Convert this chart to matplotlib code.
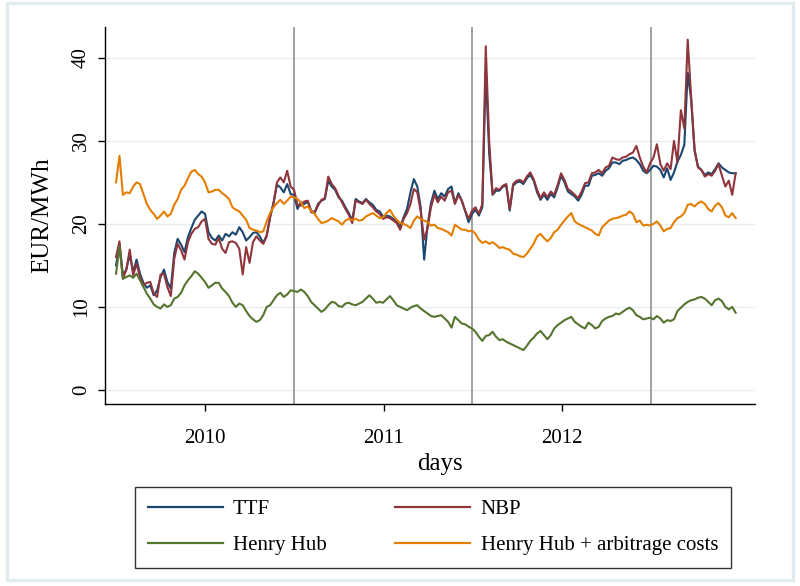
import numpy as np
import pandas as pd
import matplotlib
matplotlib.use("Agg")
import matplotlib.pyplot as plt
import matplotlib.dates as mdates
from matplotlib.patches import Rectangle

plt.rcParams['font.family'] = ['Liberation Serif', 'DejaVu Serif']

# weekly observations, July 2009 - December 2012
dates = pd.date_range('2009-07-03', periods=182, freq='7D')

ttf = [15.0, 17.5, 13.8, 14.5, 16.3, 14.2, 15.7, 14.0, 12.9, 12.3,
       12.6, 11.4, 12.0, 13.6, 14.5, 13.0, 12.2, 16.5, 18.2, 17.5,
       16.6, 18.4, 19.5, 20.5, 21.0, 21.5, 21.2, 19.0, 18.3, 18.0,
       18.6, 18.0, 18.8, 18.5, 19.0, 18.7, 19.6, 19.0, 18.0, 18.4,
       18.9, 19.0, 18.5, 17.7, 18.6, 20.8, 22.5, 24.7, 24.4, 23.8,
       24.8, 23.6, 23.5, 21.8, 22.6, 22.4, 22.7, 21.6, 21.4, 22.4,
       22.8, 23.0, 25.2, 24.5, 24.1, 23.2, 22.8, 22.0, 21.3, 20.4,
       23.0, 22.7, 22.5, 23.0, 22.6, 22.3, 21.7, 21.5, 20.9, 21.0,
       20.9, 20.6, 20.3, 19.6, 20.8, 21.8, 23.8, 25.4, 24.5, 22.0,
       15.7, 19.8, 22.5, 24.0, 23.0, 23.7, 23.3, 24.2, 24.5, 22.5,
       23.7, 22.8, 21.5, 20.2, 21.2, 21.7, 21.0, 22.0, 38.5, 28.5,
       23.5, 24.0, 24.0, 24.5, 24.6, 21.6, 24.6, 25.0, 25.1, 24.8,
       25.5, 25.9, 25.2, 23.8, 22.9, 23.5, 22.9, 23.6, 23.2, 24.4,
       25.8, 25.0, 23.9, 23.6, 23.3, 22.8, 23.5, 24.6, 24.6, 25.8,
       25.9, 26.1, 25.8, 26.4, 26.7, 27.4, 27.4, 27.2, 27.6, 27.7,
       27.9, 28.0, 27.7, 27.2, 26.4, 26.1, 26.5, 27.0, 26.9, 26.5,
       25.6, 26.7, 25.3, 26.2, 27.5, 28.3, 29.5, 38.2, 35.0, 28.8,
       26.9, 26.5, 25.9, 26.2, 26.0, 26.6, 27.3, 26.8, 26.5, 26.2,
       26.1, 26.1]

nbp = [16.0, 17.9, 13.4, 14.5, 16.9, 13.8, 15.2, 13.6, 12.6, 12.9,
       13.0, 11.6, 11.2, 13.9, 14.0, 12.4, 11.3, 15.8, 17.6, 16.8,
       15.7, 17.8, 18.8, 19.4, 19.6, 20.3, 20.6, 18.2, 17.6, 17.5,
       18.3, 17.0, 16.5, 17.8, 17.9, 17.7, 17.0, 13.9, 17.2, 15.3,
       17.8, 18.5, 18.0, 17.6, 18.5, 20.8, 22.5, 25.0, 25.6, 25.0,
       26.4, 24.5, 24.1, 22.3, 22.2, 22.7, 22.8, 21.4, 21.3, 22.2,
       22.9, 23.1, 25.7, 24.8, 24.3, 23.4, 22.6, 21.8, 21.1, 20.1,
       22.8, 22.6, 22.4, 22.9, 22.4, 22.0, 21.5, 21.2, 20.6, 20.8,
       20.7, 20.4, 20.1, 19.3, 20.6, 21.3, 22.4, 24.2, 23.8, 21.5,
       18.1, 19.5, 22.0, 23.5, 22.6, 23.3, 22.8, 23.8, 24.0, 22.4,
       23.5, 22.8, 21.6, 20.6, 21.6, 22.0, 21.2, 22.4, 41.4, 30.0,
       23.6, 24.3, 24.1, 24.6, 24.8, 21.8, 24.8, 25.2, 25.3, 25.0,
       25.7, 26.2, 25.4, 24.1, 23.1, 23.8, 23.2, 23.9, 23.5, 24.7,
       26.1, 25.3, 24.2, 23.9, 23.5, 23.1, 23.9, 24.9, 25.0, 26.1,
       26.2, 26.5, 26.1, 26.8, 27.0, 28.0, 27.8, 27.7, 28.0, 28.1,
       28.4, 28.6, 29.4, 28.0, 26.9, 26.2, 27.3, 28.0, 29.6, 27.2,
       26.4, 27.3, 26.6, 30.0, 27.4, 33.7, 31.5, 42.2, 35.3, 29.0,
       26.8, 26.5, 25.7, 26.0, 25.8, 26.4, 27.2, 25.8, 24.5, 25.2,
       23.5, 26.1]

henry_hub = [14.0, 17.3, 13.4, 13.6, 13.8, 13.5, 14.0, 13.2, 12.4, 11.6,
             11.0, 10.3, 10.0, 9.8, 10.3, 10.0, 10.2, 11.0, 11.2, 11.7,
             12.6, 13.2, 13.7, 14.3, 14.0, 13.5, 13.0, 12.3, 12.6, 12.9,
             12.9, 12.2, 11.8, 11.3, 10.5, 10.0, 10.4, 10.2, 9.5, 8.9,
             8.5, 8.2, 8.4, 9.0, 10.0, 10.2, 10.8, 11.4, 11.7, 11.2,
             11.5, 12.0, 11.9, 11.8, 12.1, 11.8, 11.3, 10.6, 10.2, 9.8,
             9.4, 9.7, 10.2, 10.6, 10.5, 10.1, 10.0, 10.4, 10.5, 10.3,
             10.2, 10.4, 10.6, 11.0, 11.4, 11.0, 10.5, 10.6, 10.5, 10.9,
             11.3, 10.8, 10.2, 10.0, 9.8, 9.6, 9.9, 10.1, 10.2, 9.8,
             9.5, 9.2, 8.9, 8.8, 8.9, 9.0, 8.6, 8.2, 7.5, 8.8,
             8.4, 8.0, 7.9, 7.6, 7.4, 7.0, 6.4, 5.9, 6.5, 6.6,
             7.0, 6.4, 6.0, 6.1, 5.8, 5.6, 5.4, 5.2, 5.0, 4.8,
             5.3, 5.9, 6.3, 6.8, 7.1, 6.6, 6.1, 6.6, 7.4, 7.8,
             8.1, 8.4, 8.6, 8.8, 8.2, 7.9, 7.6, 7.4, 8.1, 7.8,
             7.4, 7.6, 8.3, 8.6, 8.8, 8.9, 9.2, 9.1, 9.4, 9.7,
             9.9, 9.6, 9.0, 8.8, 8.5, 8.6, 8.7, 8.5, 8.9, 8.6,
             8.1, 8.4, 8.3, 8.5, 9.5, 9.9, 10.3, 10.6, 10.8, 10.9,
             11.1, 11.2, 11.0, 10.6, 10.2, 10.8, 11.0, 10.7, 10.0, 9.7,
             10.0, 9.3]

hh_arbitrage = [25.0, 28.2, 23.5, 23.8, 23.7, 24.5, 25.0, 24.8, 23.6, 22.4,
                21.7, 21.2, 20.6, 21.0, 21.5, 20.9, 21.2, 22.3, 23.0, 24.1,
                24.6, 25.5, 26.3, 26.5, 26.0, 25.7, 25.0, 23.8, 23.9, 24.1,
                24.1, 23.7, 23.4, 23.0, 22.0, 21.7, 21.5, 21.0, 20.5, 19.5,
                19.3, 19.2, 19.0, 19.1, 20.3, 21.3, 22.0, 22.5, 22.9, 22.4,
                22.8, 23.3, 23.2, 23.0, 22.6, 21.9, 22.1, 21.6, 21.2, 20.6,
                20.1, 20.2, 20.4, 20.7, 20.5, 20.3, 19.9, 20.4, 20.6, 20.5,
                20.6, 20.4, 20.5, 20.9, 21.1, 21.3, 21.0, 20.7, 20.8, 21.3,
                21.7, 21.0, 20.5, 20.1, 20.0, 19.8, 19.5, 20.4, 20.9, 20.6,
                20.4, 20.2, 19.8, 19.9, 19.5, 19.4, 19.2, 19.0, 18.6, 19.9,
                19.6, 19.3, 19.3, 19.1, 19.2, 18.8, 18.1, 17.7, 17.9, 17.6,
                17.8, 17.5, 17.1, 17.2, 17.0, 16.9, 16.4, 16.3, 16.1, 16.0,
                16.4, 17.0, 17.6, 18.5, 18.8, 18.3, 17.9, 18.3, 19.0, 19.3,
                19.9, 20.4, 20.9, 21.3, 20.3, 20.0, 19.8, 19.6, 19.4, 19.2,
                18.8, 18.6, 19.6, 20.0, 20.4, 20.6, 20.7, 20.8, 21.0, 21.1,
                21.5, 21.2, 20.2, 20.4, 19.8, 19.9, 19.8, 20.0, 20.3, 19.8,
                19.1, 19.4, 19.5, 20.2, 20.7, 20.9, 21.3, 22.3, 22.4, 22.1,
                22.5, 22.7, 22.4, 21.8, 21.5, 22.2, 22.5, 22.0, 21.0, 20.8,
                21.3, 20.7]

series_labels = ['TTF', 'NBP', 'Henry Hub', 'Henry Hub + arbitrage costs']
series_colors = ['#1a476f', '#90353b', '#55752f', '#e37e00']
year_ticks = ['2010', '2011', '2012']
vline_dates = ['2010-07-01', '2011-07-01', '2012-07-01']
y_ticks = [0, 10, 20, 30, 40]

fig = plt.figure(figsize=(8.0, 5.86), dpi=100)
fig.patch.set_facecolor('white')
fig.patches.append(Rectangle((0.009, 0.010), 0.982, 0.985, transform=fig.transFigure,
                             fill=False, edgecolor='#e3ebee', linewidth=2.5))

ax = fig.add_axes([0.131, 0.3106, 0.813, 0.643])

for yt in y_ticks:
    ax.axhline(yt, color='#e6eef1', linewidth=1.0, zorder=0)
for vd in vline_dates:
    ax.axvline(pd.Timestamp(vd), color='#9a9a9a', linewidth=1.3, zorder=1)

handles = {}
for lab, col, vals in zip(series_labels, series_colors,
                          [ttf, nbp, henry_hub, hh_arbitrage]):
    h, = ax.plot(dates, vals, color=col, linewidth=1.5, label=lab, zorder=3)
    handles[lab] = h

ax.set_xlim(pd.Timestamp('2009-06-10'), pd.Timestamp('2013-01-30'))
ax.set_ylim(-1.7, 43.7)

ax.set_xticks([pd.Timestamp(y + '-01-01') for y in year_ticks])
ax.set_xticklabels(year_ticks)
ax.set_yticks(y_ticks)
ax.set_yticklabels([str(v) for v in y_ticks], rotation=90, va='center')

ax.tick_params(axis='both', direction='out', length=5, width=1.0, color='black',
               labelsize=15)
ax.tick_params(axis='x', pad=13)
ax.tick_params(axis='y', pad=5)

for s in ['top', 'right']:
    ax.spines[s].set_visible(False)
for s in ['left', 'bottom']:
    ax.spines[s].set_linewidth(1.0)

ax.set_ylabel('EUR/MWh', fontsize=18)
ax.yaxis.set_label_coords(-0.080, 0.5)
ax.set_xlabel('days', fontsize=18)
ax.xaxis.set_label_coords(0.515, -0.130)

order = ['TTF', 'Henry Hub', 'NBP', 'Henry Hub + arbitrage costs']
leg = fig.legend([handles[k] for k in order], order, ncol=2,
                 loc='upper left', bbox_to_anchor=(135 / 800, 1 - 487 / 586),
                 borderaxespad=0.0,
                 frameon=True, fancybox=False, fontsize=15,
                 handlelength=3.6, handletextpad=0.5, columnspacing=3.3,
                 borderpad=0.6, labelspacing=0.8)
leg.get_frame().set_edgecolor('black')
leg.get_frame().set_linewidth(1.0)
for line in leg.get_lines():
    line.set_linewidth(1.6)

fig.savefig('out.png', dpi=100, facecolor='white')
